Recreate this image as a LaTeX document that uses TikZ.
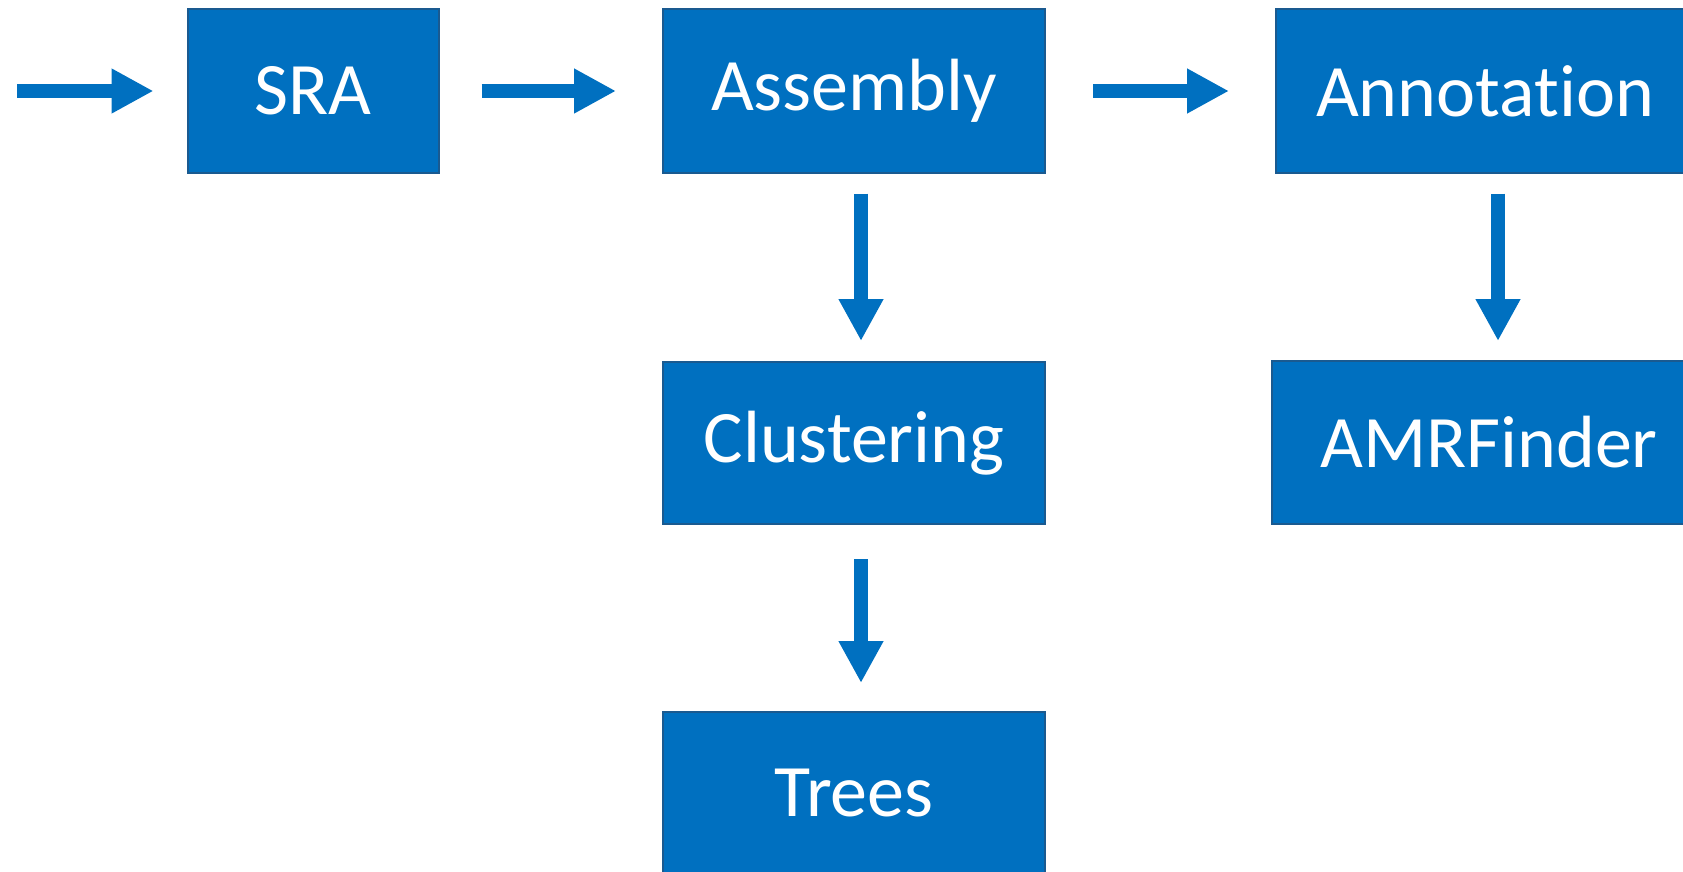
\documentclass[tikz,border=0pt]{standalone}
\usepackage{fontspec}
\setmainfont{Carlito}[Ligatures=NoCommon]
\usetikzlibrary{arrows.meta}
\definecolor{boxblue}{HTML}{0070C0}
\definecolor{boxedge}{HTML}{1A5A90}
\tikzset{
  stage/.style={rectangle, fill=boxblue, draw=boxedge, line width=2pt,
    inner sep=0pt, text=white, font=\fontsize{74}{88}\selectfont},
  flow/.style={draw=boxblue, line width=14pt,
    -{Triangle[length=42pt, width=42pt]}}
}
\begin{document}
\begin{tikzpicture}[x=1pt, y=-1pt]
  \clip (0,0) rectangle (1683,872);
  \useasboundingbox (0,0) rectangle (1683,872);
  \node[stage, minimum width=251pt, minimum height=163pt] (sra) at (313,91) {SRA};
  \node[stage, minimum width=382pt, minimum height=163pt] (asm) at (854,91) {Assembly};
  \node[stage, minimum width=418pt, minimum height=163pt] (ann) at (1485,91) {Annotation};
  \node[stage, minimum width=382pt, minimum height=162pt] (clu) at (854,443) {Clustering};
  \node[stage, minimum width=434pt, minimum height=163pt] (amr) at (1489,442.5) {AMRFinder};
  \node[stage, minimum width=382pt, minimum height=162pt] (tre) at (854,793) {Trees};
  \coordinate (in) at (17,91);
  \draw[flow, shorten >=33pt] (in) -- (sra.west);
  \draw[flow, shorten <=42pt, shorten >=46pt] (sra.east) -- (asm.west);
  \draw[flow, shorten <=47pt, shorten >=46pt] (asm.east) -- (ann.west);
  \draw[flow, shorten <=20pt, shorten >=20pt] ([xshift=7pt]asm.south) -- ([xshift=7pt]clu.north);
  \draw[flow, shorten <=34pt, shorten >=28pt] ([xshift=7pt]clu.south) -- ([xshift=7pt]tre.north);
  \draw[flow, shorten <=20pt, shorten >=19pt] ([xshift=13pt]ann.south) -- ([xshift=9pt]amr.north);
\end{tikzpicture}
\end{document}
